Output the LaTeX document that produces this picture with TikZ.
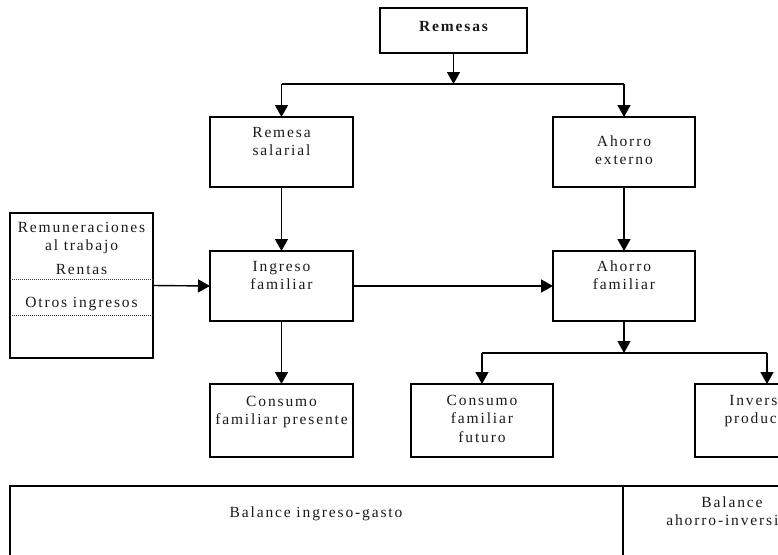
\documentclass[tikz,border=0pt]{standalone}
\usepackage{fontspec}
\setmainfont{Liberation Serif}[LetterSpace=12]
\usetikzlibrary{arrows.meta}
\begin{document}
\begin{tikzpicture}[x=1pt,y=-1pt,
  box/.style={draw, line width=1.4pt, anchor=north west, inner sep=0pt, outer sep=0pt},
  txt/.style={inner sep=0pt, align=center, font=\fontsize{15.5}{18.6}\selectfont, anchor=north, text=black!90},
  btxt/.style={inner sep=0pt, font=\fontsize{15.5}{18.6}\selectfont, anchor=base, text=black!90},
  arr/.style={line width=1.4pt, -{Triangle[length=12pt,width=13pt]}},
  ln/.style={line width=1.4pt},
  dots/.style={line width=0.9pt, dash pattern=on 0.8pt off 1.2pt, black!80}]
\useasboundingbox (0,0) rectangle (778,554);
\clip (0,0) rectangle (778,554);
% boxes
\node[box, minimum width=147pt, minimum height=45pt] (rem) at (380,8) {};
\node[box, minimum width=143pt, minimum height=70pt] (rs) at (210,117) {};
\node[box, minimum width=142pt, minimum height=70pt] (ae) at (553,117) {};
\node[box, minimum width=143pt, minimum height=70pt] (ing) at (210,251) {};
\node[box, minimum width=142pt, minimum height=70pt] (ahf) at (553,251) {};
\node[box, minimum width=143pt, minimum height=73pt] (cp) at (210,384) {};
\node[box, minimum width=142pt, minimum height=73pt] (cf) at (411,384) {};
\node[box, minimum width=144pt, minimum height=73pt] (inv) at (695,384) {};
\node[box, minimum width=143pt, minimum height=145pt] (lb) at (10,213) {};
\node[box, minimum width=850pt, minimum height=120pt] (bal) at (10,486) {};
\draw[ln] (623,486) -- (623,606);
% dotted separators
\draw[dots] (10,279) -- (153,279);
\draw[dots] (10,315) -- (153,315);
% texts
\node[btxt, font=\fontsize{15.5}{18.6}\selectfont\bfseries] (rem-t) at (453.5,31) {Remesas};
\node[txt] (rs-t) at (281.5,124) {\strut Remesa\\salarial};
\node[txt] (ae-t) at (624,133) {\strut Ahorro\\externo};
\node[txt] (ing-t) at (281.5,258) {\strut Ingreso\\familiar};
\node[txt] (ahf-t) at (624,258) {\strut Ahorro\\familiar};
\node[txt] (cp-t) at (281.5,393) {\strut Consumo\\familiar presente};
\node[txt] (cf-t) at (482,392) {\strut Consumo\\familiar\\futuro};
\node[txt] (inv-t) at (766,392) {\strut Inversión\\productiva};
\node[txt] (lb-t) at (81.5,219) {\strut Remuneraciones\\al trabajo};
\node[btxt] (lb-r) at (81.5,274) {Rentas};
\node[btxt] (lb-o) at (81.5,307) {Otros ingresos};
\node[btxt] (bal-l) at (316,517) {Balance ingreso-gasto};
\node[txt] (bal-r) at (732,494) {\strut Balance\\ahorro-inversión};
% connectors
\coordinate (j1) at (453.5,84);
\coordinate (jl) at (rs.north |- j1);
\coordinate (jr) at (ae.north |- j1);
\draw[arr] (rem.south) -- (j1);
\draw[ln] (jl) -- (jr);
\draw[arr] (jl) -- (rs.north);
\draw[arr] (jr) -- (ae.north);
\draw[arr] (rs.south) -- (ing.north);
\draw[arr] (ae.south) -- (ahf.north);
\draw[arr] (lb.east) -- (ing.west);
\draw[arr] (ing.east) -- (ahf.west);
\draw[arr] (ing.south) -- (cp.north);
\coordinate (j2) at (624,353);
\coordinate (j2l) at (cf.north |- j2);
\coordinate (j2r) at (inv.north |- j2);
\draw[arr] (ahf.south) -- (j2);
\draw[ln] (j2l) -- (j2r);
\draw[arr] (j2l) -- (cf.north);
\draw[arr] (j2r) -- (inv.north);
\end{tikzpicture}
\end{document}
